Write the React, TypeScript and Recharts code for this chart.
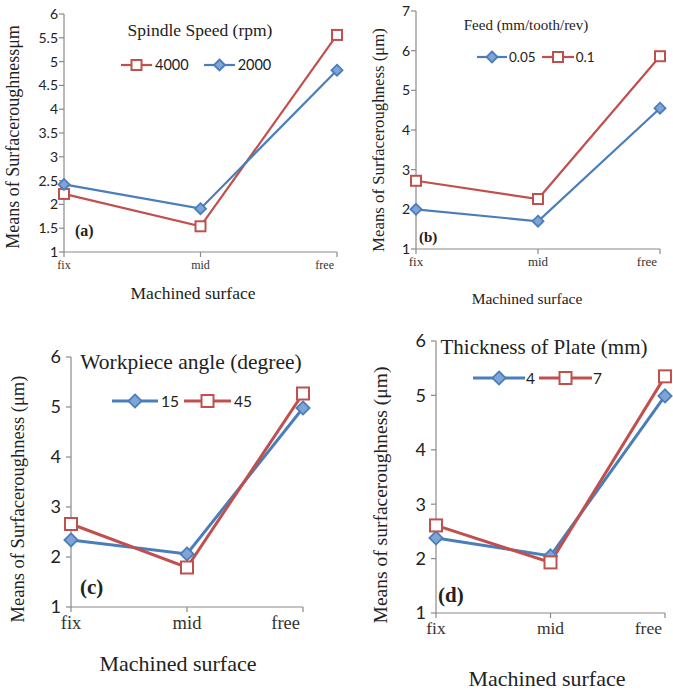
import React from 'react';
import { LineChart, Line, XAxis, YAxis, Legend, Customized } from 'recharts';

const categories = ['fix', 'mid', 'free'];

const speed4000 = [2.22, 1.54, 5.56];
const speed2000 = [2.42, 1.91, 4.82];
const feed005 = [2.0, 1.7, 4.55];
const feed01 = [2.72, 2.26, 5.86];
const angle15 = [2.34, 2.06, 4.98];
const angle45 = [2.66, 1.79, 5.27];
const thick4 = [2.38, 2.05, 4.99];
const thick7 = [2.61, 1.93, 5.35];

const ticksA = [1, 1.5, 2, 2.5, 3, 3.5, 4, 4.5, 5, 5.5, 6];
const ticksB = [1, 2, 3, 4, 5, 6, 7];
const ticksCD = [1, 2, 3, 4, 5, 6];

const RED = '#C0504D';
const BLUE = '#4A7EBB';
const DIAMOND_FILL = '#7FA5D6';
const AXIS = '#8A8A8A';
const SERIF = '"Liberation Serif", "Times New Roman", serif';
const SANS = 'Lato, "Liberation Sans", sans-serif';

type Series = { name: string; values: number[]; color: string; marker: 'square' | 'diamond' };

function Marker({ cx, cy, marker, color, size }: any) {
  if (cx == null || cy == null) return null;
  const h = size / 2;
  if (marker === 'square') {
    return <rect x={cx - h} y={cy - h} width={size} height={size} fill="#fff" stroke={color} strokeWidth={2} />;
  }
  const d = h * 1.1;
  return (
    <polygon
      points={`${cx},${cy - d} ${cx + d},${cy} ${cx},${cy + d} ${cx - d},${cy}`}
      fill={DIAMOND_FILL}
      stroke={color}
      strokeWidth={1.8}
    />
  );
}

function CatTick(props: any) {
  const { x, y, payload, index, fontSize } = props;
  const last = index === categories.length - 1;
  return (
    <text
      x={last ? x - 3 : x}
      y={y}
      dy={fontSize * 0.8}
      textAnchor={last ? 'end' : 'middle'}
      fontFamily={SERIF}
      fontSize={fontSize}
      fill="#333"
    >
      {payload.value}
    </text>
  );
}

type PanelProps = {
  left: number;
  top: number;
  width: number;
  height: number;
  plotLeft: number;
  plotRight: number;
  plotTop: number;
  plotBottom: number;
  yTicks: number[];
  series: Series[];
  yTickFont: number;
  yTickMargin: number;
  catFont: number;
  lineWidth: number;
  markerSize: number;
  legend: { left: number; top: number; fontSize: number; lineLens: number[]; gap: number; textGap: number };
  title: { text: string; x: number; y: number; fontSize: number };
  letter: { text: string; x: number; y: number; fontSize: number };
  yLabel: { text: string; x: number; y: number; fontSize: number };
  xLabel: { text: string; x: number; y: number; fontSize: number };
};

function Panel(p: PanelProps) {
  const data = categories.map((c, i) => {
    const row: any = { cat: c };
    p.series.forEach((s, k) => {
      row['s' + k] = s.values[i];
    });
    return row;
  });
  const xAxisHeight = 30;
  const legendContent = () => (
    <div style={{ display: 'flex', alignItems: 'center', fontFamily: SANS, fontSize: p.legend.fontSize, color: '#222', whiteSpace: 'nowrap' }}>
      {p.series.map((s, k) => {
        const L = p.legend.lineLens[k];
        return (
          <div key={s.name} style={{ display: 'flex', alignItems: 'center', marginRight: k === 0 ? p.legend.gap : 0 }}>
            <svg width={L} height={16} style={{ display: 'block' }}>
              <line x1={0} y1={8} x2={L} y2={8} stroke={s.color} strokeWidth={p.lineWidth} />
              <Marker cx={L / 2} cy={8} marker={s.marker} color={s.color} size={p.markerSize} />
            </svg>
            <span style={{ marginLeft: p.legend.textGap, lineHeight: '16px' }}>{s.name}</span>
          </div>
        );
      })}
    </div>
  );
  const Annotations = () => (
    <g>
      <text x={p.title.x} y={p.title.y} textAnchor="middle" dominantBaseline="central" fontFamily={SERIF} fontSize={p.title.fontSize} fill="#222">
        {p.title.text}
      </text>
      <text x={p.letter.x} y={p.letter.y} textAnchor="start" dominantBaseline="central" fontFamily={SERIF} fontWeight="bold" fontSize={p.letter.fontSize} fill="#222">
        {p.letter.text}
      </text>
      <text
        x={p.yLabel.x}
        y={p.yLabel.y}
        textAnchor="middle"
        dominantBaseline="central"
        transform={`rotate(-90, ${p.yLabel.x}, ${p.yLabel.y})`}
        fontFamily={SERIF}
        fontSize={p.yLabel.fontSize}
        fill="#222"
      >
        {p.yLabel.text}
      </text>
      <text x={p.xLabel.x} y={p.xLabel.y} textAnchor="middle" dominantBaseline="central" fontFamily={SERIF} fontSize={p.xLabel.fontSize} fill="#222">
        {p.xLabel.text}
      </text>
    </g>
  );
  return (
    <div style={{ position: 'absolute', left: p.left, top: p.top, width: p.width, height: p.height }}>
      <LineChart
        width={p.width}
        height={p.height}
        data={data}
        margin={{ top: p.plotTop, right: p.width - p.plotRight, bottom: p.height - p.plotBottom - xAxisHeight, left: 0 }}
      >
        <XAxis
          dataKey="cat"
          height={xAxisHeight}
          interval={0}
          tickSize={5}
          tickMargin={2}
          axisLine={{ stroke: AXIS, strokeWidth: 1.2 }}
          tickLine={{ stroke: AXIS, strokeWidth: 1.2 }}
          tick={<CatTick fontSize={p.catFont} />}
        />
        <YAxis
          width={p.plotLeft}
          domain={[p.yTicks[0], p.yTicks[p.yTicks.length - 1]]}
          ticks={p.yTicks}
          interval={0}
          tickSize={5}
          tickMargin={p.yTickMargin}
          axisLine={{ stroke: AXIS, strokeWidth: 1.2 }}
          tickLine={{ stroke: AXIS, strokeWidth: 1.2 }}
          tick={{ fontFamily: SANS, fontSize: p.yTickFont, fill: '#222' }}
        />
        <Legend
          verticalAlign="middle"
          layout="horizontal"
          wrapperStyle={{ left: p.legend.left, top: p.legend.top, width: 'auto', height: 'auto', position: 'absolute' }}
          content={legendContent}
        />
        {p.series.map((s, k) => (
          <Line
            key={s.name}
            dataKey={'s' + k}
            name={s.name}
            type="linear"
            stroke={s.color}
            strokeWidth={p.lineWidth}
            isAnimationActive={false}
            dot={(dp: any) => <Marker key={'m' + k + '-' + dp.index} cx={dp.cx} cy={dp.cy} marker={s.marker} color={s.color} size={p.markerSize} />}
            activeDot={false}
          />
        ))}
        <Customized component={Annotations} />
      </LineChart>
    </div>
  );
}

export default function App() {
  return (
    <div style={{ position: 'absolute', left: 0, top: 0, width: 673, height: 691, background: '#fff', overflow: 'hidden' }}>
      <Panel
        left={0}
        top={0}
        width={345}
        height={310}
        plotLeft={64}
        plotRight={337}
        plotTop={14}
        plotBottom={252}
        yTicks={ticksA}
        series={[
          { name: '4000', values: speed4000, color: RED, marker: 'square' },
          { name: '2000', values: speed2000, color: BLUE, marker: 'diamond' },
        ]}
        yTickFont={14}
        yTickMargin={1}
        catFont={12}
        lineWidth={2.2}
        markerSize={10}
        legend={{ left: 121, top: 57, fontSize: 14.5, lineLens: [31, 31], gap: 15, textGap: 3 }}
        title={{ text: 'Spindle Speed (rpm)', x: 200, y: 30, fontSize: 17.5 }}
        letter={{ text: '(a)', x: 75, y: 230, fontSize: 16 }}
        yLabel={{ text: 'Means of Surfaceroughnessμm', x: 13, y: 137, fontSize: 18 }}
        xLabel={{ text: 'Machined surface', x: 193, y: 293, fontSize: 17.5 }}
      />
      <Panel
        left={340}
        top={0}
        width={333}
        height={310}
        plotLeft={76}
        plotRight={320}
        plotTop={11}
        plotBottom={249}
        yTicks={ticksB}
        series={[
          { name: '0.05', values: feed005, color: BLUE, marker: 'diamond' },
          { name: '0.1', values: feed01, color: RED, marker: 'square' },
        ]}
        yTickFont={14}
        yTickMargin={1}
        catFont={13}
        lineWidth={2.2}
        markerSize={10}
        legend={{ left: 137, top: 49, fontSize: 13.5, lineLens: [30, 32], gap: 6, textGap: 2 }}
        title={{ text: 'Feed (mm/tooth/rev)', x: 186, y: 25, fontSize: 15 }}
        letter={{ text: '(b)', x: 79, y: 237, fontSize: 15 }}
        yLabel={{ text: 'Means of Surfaceroughness (μm)', x: 38, y: 140, fontSize: 16.8 }}
        xLabel={{ text: 'Machined surface', x: 187, y: 298, fontSize: 15.5 }}
      />
      <Panel
        left={0}
        top={320}
        width={340}
        height={371}
        plotLeft={71}
        plotRight={303}
        plotTop={37}
        plotBottom={287}
        yTicks={ticksCD}
        series={[
          { name: '15', values: angle15, color: BLUE, marker: 'diamond' },
          { name: '45', values: angle45, color: RED, marker: 'square' },
        ]}
        yTickFont={18}
        yTickMargin={5}
        catFont={18.5}
        lineWidth={3}
        markerSize={12}
        legend={{ left: 112, top: 73, fontSize: 15.5, lineLens: [46, 47], gap: 5, textGap: 3 }}
        title={{ text: 'Workpiece angle (degree)', x: 191, y: 42, fontSize: 21.5 }}
        letter={{ text: '(c)', x: 80, y: 267, fontSize: 21 }}
        yLabel={{ text: 'Means of Surfaceroughness (μm)', x: 18, y: 179, fontSize: 18.5 }}
        xLabel={{ text: 'Machined surface', x: 178, y: 343, fontSize: 22 }}
      />
      <Panel
        left={340}
        top={320}
        width={333}
        height={371}
        plotLeft={96}
        plotRight={325}
        plotTop={21}
        plotBottom={293}
        yTicks={ticksCD}
        series={[
          { name: '4', values: thick4, color: BLUE, marker: 'diamond' },
          { name: '7', values: thick7, color: RED, marker: 'square' },
        ]}
        yTickFont={18}
        yTickMargin={5}
        catFont={17.5}
        lineWidth={3}
        markerSize={12}
        legend={{ left: 133, top: 50, fontSize: 15.5, lineLens: [52, 53], gap: 4, textGap: 1 }}
        title={{ text: 'Thickness of Plate (mm)', x: 204, y: 27, fontSize: 21 }}
        letter={{ text: '(d)', x: 98, y: 275, fontSize: 21 }}
        yLabel={{ text: 'Means of surfaceroughness (μm)', x: 40, y: 175, fontSize: 19.5 }}
        xLabel={{ text: 'Machined surface', x: 207, y: 358, fontSize: 22 }}
      />
    </div>
  );
}
